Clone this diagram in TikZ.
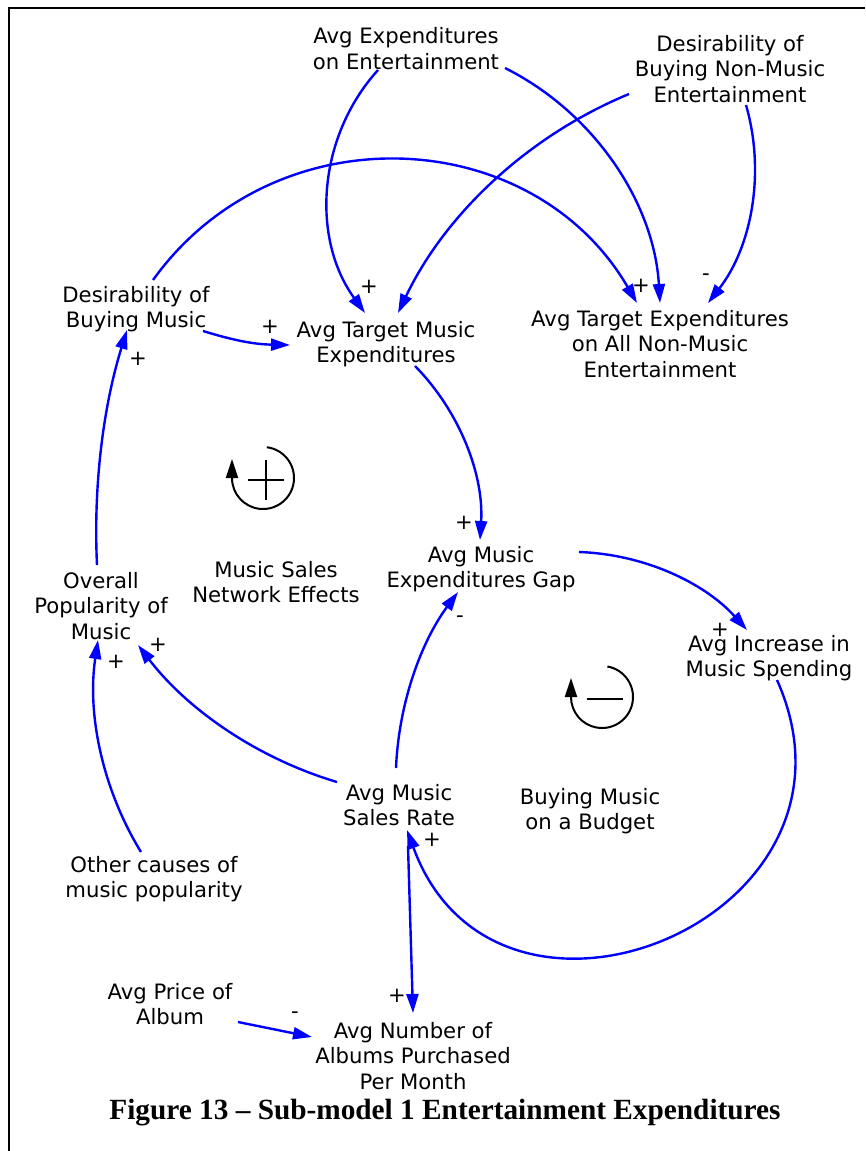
\documentclass[tikz,border=0pt]{standalone}
\usepackage{fontspec}
\setmainfont{DejaVu Sans}
\newfontfamily\capfont{Liberation Serif}
\usetikzlibrary{arrows.meta,calc}
\definecolor{linkblue}{RGB}{0,0,255}
\begin{document}
\begin{tikzpicture}[x=1pt,y=1pt,
  var/.style={font=\fontsize{21.2}{25.2}\selectfont, align=center, inner sep=0pt},
  sign/.style={font=\fontsize{21.2}{25.2}\selectfont, inner sep=0pt},
  link/.style={draw=linkblue, line width=2.4pt, -{Triangle[length=19pt,width=12pt]}},
  loopline/.style={line width=2pt, -{Triangle[length=19pt,width=12pt]}},
]
\useasboundingbox (0,0) rectangle (865,-1151);
% frame
\draw[line width=2pt] (9,-1151) -- (9,-8) -- (865,-8);

% variables
\node[var] (aee) at (406,-48.5) {Avg Expenditures\\on Entertainment};
\node[var] (dnm) at (730,-69) {Desirability of\\Buying Non-Music\\Entertainment};
\node[var] (dbm) at (136,-309) {Desirability of\\Buying Music};
\node[var] (atm) at (386,-344) {Avg Target Music\\Expenditures};
\node[var] (atn) at (660,-344) {Avg Target Expenditures\\on All Non-Music\\Entertainment};
\node[var] (gap) at (481,-569) {Avg Music\\Expenditures Gap};
\node[var] (net) at (276,-582) {Music Sales\\Network Effects};
\node[var] (pop) at (101,-606) {Overall\\Popularity of\\Music};
\node[var] (inc) at (769,-658) {Avg Increase in\\Music Spending};
\node[var] (sr) at (399,-805) {Avg Music\\Sales Rate};
\node[var] (bud) at (590,-811) {Buying Music\\on a Budget};
\node[var] (oth) at (154,-879) {Other causes of\\music popularity};
\node[var] (price) at (170,-1004) {Avg Price of\\Album};
\node[var] (alb) at (413,-1056) {Avg Number of\\Albums Purchased\\Per Month};
\node[font=\capfont\bfseries\fontsize{29.3}{31}\selectfont, inner sep=0pt] (cap) at (445,-1113) {Figure 13 – Sub-model 1 Entertainment Expenditures};

% loop markers
\coordinate (loopR) at (263,-478);
\draw[loopline] ($(loopR)+(83:31)$) arc[start angle=83,end angle=-180,radius=31] -- ++(0,19);
\draw[line width=1.6pt] (248,-480) -- (284,-480) (266,-460) -- (266,-500);
\coordinate (loopB) at (602,-697);
\draw[loopline] ($(loopB)+(80:31)$) arc[start angle=80,end angle=-180,radius=31] -- ++(0,19);
\draw[line width=2pt] (587,-699) -- (623,-699);

% causal links
\draw[link] ($(aee)+(-28,-21.5)$) to[bend right=39,looseness=0.96] ($(atm)+(-21,31)$);
\draw[link] ($(aee)+(99,-19.5)$) to[bend left=30,looseness=0.91] ($(atn)+(0,41)$);
\draw[link] ($(dnm)+(-101,-25)$) to[bend right=21,looseness=0.88] ($(atm)+(12,31)$);
\draw[link] ($(dnm)+(16,-36)$) to[bend left=27,looseness=0.9] ($(atn)+(48,41)$);
\draw[link] ($(dbm)+(17,29)$) to[bend left=57,looseness=1.1] ($(atn)+(-23,41)$);
\draw[link] ($(dbm)+(67,-22)$) to[bend right=8] ($(atm)+(-96,-1)$);
\draw[link] ($(atm)+(29,-22)$) to[bend left=24,looseness=0.89] ($(gap)+(-1,29)$);
\draw[link] ($(gap)+(98,17)$) to[bend left=23,looseness=0.89] ($(inc)+(-22,28)$);
\draw[link] ($(inc)+(8,-22)$) to[bend left=92,looseness=1.68] ($(sr)+(8,-25)$);
\draw[link] ($(sr)+(-3,37)$) to[bend left=17,looseness=0.87] ($(gap)+(-23,-23)$);
\draw[link] ($(sr)+(-62,23)$) to[bend left=18,looseness=0.87] ($(pop)+(37,-39)$);
\draw[link] ($(oth)+(-13,27)$) to[bend left=20,looseness=0.88] ($(pop)+(-3,-34)$);
\draw[link] ($(pop)+(-4,41)$) to[bend left=10,looseness=0.86] ($(dbm)+(-9,-21)$);
\draw[link] ($(sr)+(9,-41)$) -- ($(alb)+(0,43)$);
\draw[link] ($(price)+(68,-18)$) -- ($(alb)+(-101,19)$);

% link polarities
\node[sign] (sa) at (369,-287) {+};
\node[sign] (sb) at (641,-286) {+};
\node[sign] (sd) at (706,-277) {-};
\node[sign] (sf) at (270,-327) {+};
\node[sign] (sm) at (138,-359) {+};
\node[sign] (sg) at (464,-523) {+};
\node[sign] (sh) at (720,-630) {+};
\node[sign] (sj) at (460,-619) {-};
\node[sign] (sk) at (158,-645) {+};
\node[sign] (sl) at (116,-662) {+};
\node[sign] (si) at (432,-840) {+};
\node[sign] (sn) at (397,-996) {+};
\node[sign] (so) at (295,-1015) {-};
\end{tikzpicture}
\end{document}
